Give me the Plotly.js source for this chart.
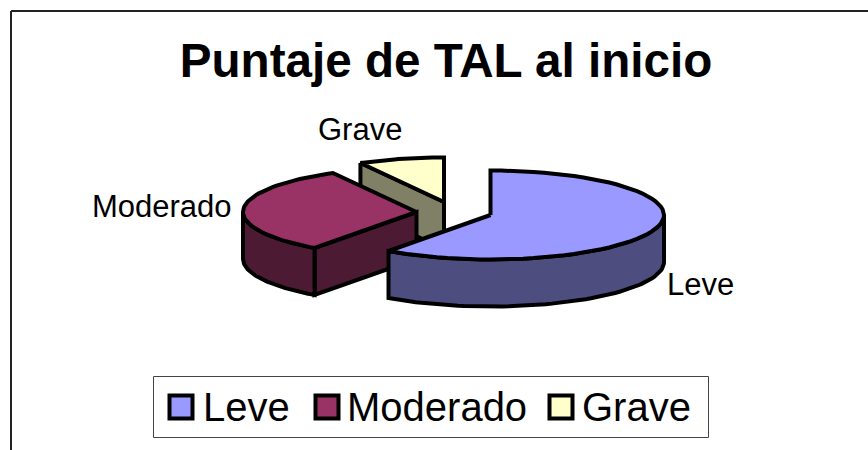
<!DOCTYPE html>
<html><head><meta charset="utf-8">
<script src="https://cdn.plot.ly/plotly-3.0.1.min.js"></script>
<style>html,body{margin:0;padding:0;background:#fff}#c{width:868px;height:450px}</style>
</head><body><div id="c"></div>
<script>
// Data
const categories = ['Leve', 'Moderado', 'Grave'];
const values = [60, 32, 8];
const topColors = ['#9999FF', '#993366', '#FFFFCC'];
const sideColors = ['#4D4D80', '#4D1A33', '#808066'];
const chartTitle = 'Puntaje de TAL al inicio';

// Geometry of the exploded 3-D pie (axis units = px)
const rx = 173.5, ry = 44.5, depth = 47;
const centers = [[490.5, 215], [416.5, 212], [444, 202]];
const labelPos = [[700, 284.5], [162, 206.5], [360, 129.5]];
const legendSwatchX = [181, 327, 561];
const legendTextX = [203, 347, 582];
const legendY = 407;

const font = 'Liberation Sans, Arial, sans-serif';
const total = values.reduce((a, b) => a + b, 0);
const ang = []; let acc = 0;
values.forEach(v => { ang.push([acc / total * 2 * Math.PI, (acc + v) / total * 2 * Math.PI]); acc += v; });

const pt = (c, t, dz) => [c[0] + rx * Math.sin(t), c[1] - ry * Math.cos(t) + (dz || 0)];
function arc(c, a, b, dz) {
  const out = [], n = 60;
  for (let i = 0; i <= n; i++) out.push(pt(c, a + (b - a) * i / n, dz));
  return out;
}
function poly(points, fill, name) {
  const p = points.concat([points[0]]);
  return { type: 'scatter', mode: 'lines', x: p.map(q => q[0]), y: p.map(q => q[1]),
    fill: 'toself', fillcolor: fill, line: { color: '#000', width: 4 }, hoverinfo: 'skip', name: name, showlegend: false };
}
const traces = [];
[2, 1, 0].forEach(i => {
  const c = centers[i], a = ang[i][0], b = ang[i][1];
  const side = sideColors[i], top = topColors[i], nm = categories[i];
  const cb = [c[0], c[1] + depth];
  // radial wall at the slice's start, when it faces the viewer from behind the neighbours
  if (Math.sin(a) < 0) traces.push(poly([pt(c, a), c, cb, pt(c, a, depth)], side, nm));
  // outer rim, only its front half (angles between 90 and 270 degrees)
  const ra = Math.max(a, Math.PI / 2), rb = Math.min(b, 1.5 * Math.PI);
  if (rb > ra) traces.push(poly(arc(c, ra, rb).concat(arc(c, ra, rb, depth).reverse()), side, nm));
  traces.push(poly([c].concat(arc(c, a, b)), top, nm));
});
// legend swatches
traces.push({ type: 'scatter', mode: 'markers', x: legendSwatchX, y: categories.map(() => legendY),
  marker: { symbol: 'square', size: 23, color: topColors, line: { color: '#000', width: 4 } }, hoverinfo: 'skip', showlegend: false });

const annotations = categories.map((t, i) => ({ x: labelPos[i][0], y: labelPos[i][1], text: t, showarrow: false,
  xanchor: 'center', yanchor: 'middle', font: { family: font, size: 31, color: '#000' } }))
  .concat(categories.map((t, i) => ({ x: legendTextX[i], y: legendY, text: t, showarrow: false,
  xanchor: 'left', yanchor: 'middle', xshift: -2, font: { family: font, size: 40, color: '#000' } })));

const shapes = [
  { type: 'line', x0: 11, x1: 868, y0: 11, y1: 11, line: { color: '#222', width: 2 } },
  { type: 'line', x0: 11, x1: 11, y0: 11, y1: 450, line: { color: '#222', width: 2 } },
  { type: 'rect', x0: 153.5, x1: 708.5, y0: 376.5, y1: 437.5, line: { color: '#444', width: 1 }, fillcolor: 'rgba(0,0,0,0)' }
];

Plotly.newPlot('c', traces, {
  width: 868, height: 450, margin: { l: 0, r: 0, t: 0, b: 0 }, showlegend: false,
  paper_bgcolor: '#fff', plot_bgcolor: '#fff',
  title: { text: '<b>' + chartTitle + '</b>', x: 446 / 868, xanchor: 'center', y: 1 - 60 / 450, yanchor: 'middle',
    font: { family: font, size: 47.6, color: '#000' } },
  xaxis: { range: [0, 868], visible: false, fixedrange: true },
  yaxis: { range: [450, 0], visible: false, fixedrange: true },
  shapes: shapes, annotations: annotations
}, { displayModeBar: false, staticPlot: true });
</script></body></html>
